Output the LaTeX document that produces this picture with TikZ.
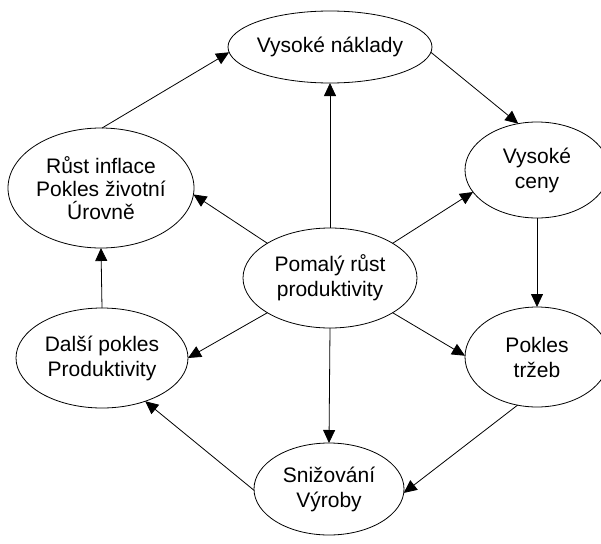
\documentclass[tikz,border=0pt]{standalone}
\usepackage{fontspec}
\setmainfont{Liberation Sans}
\usetikzlibrary{shapes.geometric,arrows.meta}

\begin{document}
\begin{tikzpicture}[x=1pt,y=-1pt,
  bubble/.style={draw=black, line width=0.8pt, ellipse, inner sep=0pt, outer sep=0pt},
  txt/.style={align=center, font=\fontsize{21}{25}\selectfont, inner sep=0pt},
  conn/.style={draw=black, line width=0.8pt, -{Triangle[length=13pt,width=12pt]}}
]
\useasboundingbox (0,0) rectangle (601,543);

% ellipses
\node[bubble, minimum width=204pt, minimum height=72pt,
      label={[txt]center:Vysoké náklady}] (vn) at (330,47) {};
\node[bubble, minimum width=144pt, minimum height=96pt,
      label={[txt]center:Vysoké\\ceny}] (vc) at (537,170) {};
\node[bubble, minimum width=186pt, minimum height=120pt,
      label={[txt,font=\fontsize{21}{23}\selectfont]center:Růst inflace\\Pokles životní\\Úrovně}] (ri) at (101,188) {};
\node[bubble, minimum width=174pt, minimum height=100pt,
      label={[txt]center:Pomalý růst\\produktivity}] (pr) at (330,278) {};
\node[bubble, minimum width=172pt, minimum height=100pt,
      label={[txt]center:Další pokles\\Produktivity}] (dp) at (102,358) {};
\node[bubble, minimum width=144pt, minimum height=100pt,
      label={[txt]center:Pokles\\tržeb}] (pt) at (537,357) {};
\node[bubble, minimum width=150pt, minimum height=92pt,
      label={[txt]center:Snižování\\Výroby}] (sv) at (329,489) {};

% connectors
\draw[conn] (ri.89) -- (vn.183);
\draw[conn] (pr.north) -- (vn.south);
\draw[conn] (vn.-3) -- (vc.112);
\draw[conn] (pr.29) -- (vc.199);
\draw[conn] (vc.south) -- (pt.north);
\draw[conn] (pr.-29) -- (pt.179);
\draw[conn] (pt.248) -- (sv.-3);
\draw[conn] (pr.south) -- (sv.north);
\draw[conn] (sv.181) -- (dp.-45);
\draw[conn] (pr.209) -- (dp.0);
\draw[conn] (dp.north) -- (ri.south);
\draw[conn] (pr.151) -- (ri.-4);
\end{tikzpicture}
\end{document}
